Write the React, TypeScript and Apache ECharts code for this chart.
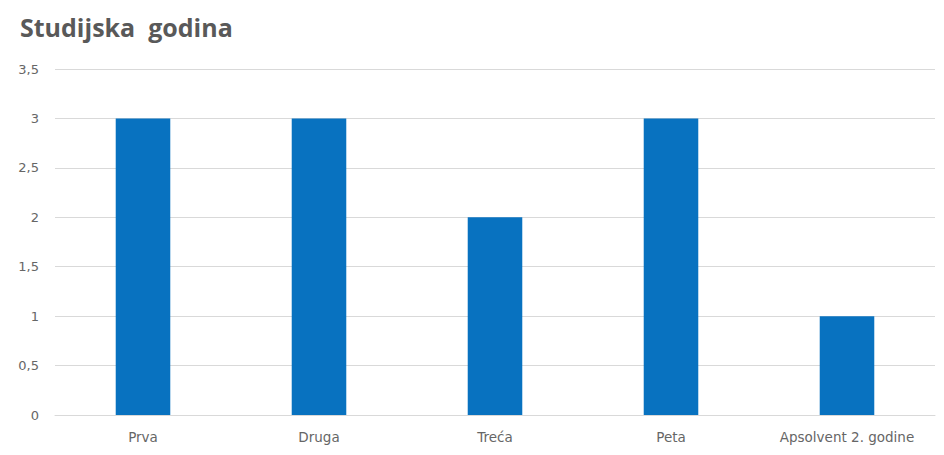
import React, { useEffect, useRef } from "react";
import * as echarts from "echarts";

const categories = ["Prva", "Druga", "Treća", "Peta", "Apsolvent 2. godine"];
const values = [3, 3, 2, 3, 1];
const yTicks = { min: 0, max: 3.5, interval: 0.5 };

export default function App() {
  const ref = useRef<HTMLDivElement>(null);

  useEffect(() => {
    document.body.style.margin = "0";
    const chart = echarts.init(ref.current!, null, { renderer: "svg" });
    chart.setOption({
      animation: false,
      backgroundColor: "#ffffff",
      title: {
        text: "Studijska  godina",
        left: 15,
        top: 9,
        textStyle: {
          fontFamily: "Open Sans",
          fontWeight: "bold",
          fontSize: 25,
          color: "#595959",
        },
      },
      grid: { left: 55, right: 9, top: 69, bottom: 40 },
      xAxis: {
        type: "category",
        data: categories,
        axisTick: { show: false },
        axisLine: { lineStyle: { color: "#d9d9d9", width: 1 } },
        axisLabel: {
          color: "#666666",
          fontFamily: "DejaVu Sans",
          fontSize: 13.5,
          margin: 15,
        },
      },
      yAxis: {
        type: "value",
        min: yTicks.min,
        max: yTicks.max,
        interval: yTicks.interval,
        axisLine: { show: false },
        axisTick: { show: false },
        splitLine: { lineStyle: { color: "#d9d9d9", width: 1 } },
        axisLabel: {
          color: "#666666",
          fontFamily: "DejaVu Sans",
          fontSize: 13,
          margin: 16,
          formatter: (v: number) => String(v).replace(".", ","),
        },
      },
      series: [
        {
          type: "bar",
          data: values,
          barWidth: "31%",
          itemStyle: { color: "#0872C0" },
        },
      ],
    });
    return () => chart.dispose();
  }, []);

  return <div ref={ref} style={{ width: 944, height: 455 }} />;
}
